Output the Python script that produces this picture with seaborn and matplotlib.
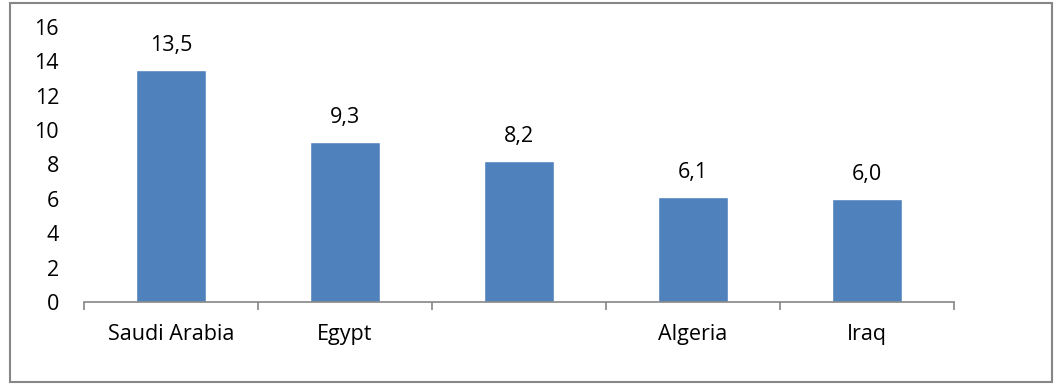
import matplotlib
matplotlib.use("Agg")
import matplotlib.pyplot as plt
import seaborn as sns
import pandas as pd
from matplotlib.patches import Rectangle
from matplotlib.ticker import FixedLocator

# data
countries = ["Saudi Arabia", "Egypt", "", "Algeria", "Iraq"]
values = [13.5, 9.3, 8.2, 6.1, 6.0]
yticks = [0, 2, 4, 6, 8, 10, 12, 14, 16]

df = pd.DataFrame({"country": countries, "value": values})

sns.set_style("white")
plt.rcParams["font.family"] = ["Open Sans", "DejaVu Sans"]
plt.rcParams["text.color"] = "black"
plt.rcParams["xtick.color"] = "black"
plt.rcParams["ytick.color"] = "black"

fig = plt.figure(figsize=(10.61, 3.85), dpi=100)
ax = fig.add_axes([84 / 1061, 1 - 302 / 385, 870 / 1061, 275 / 385])

sns.barplot(data=df, x="country", y="value", order=countries, color="#4F81BD",
            saturation=1, width=0.4, ax=ax)

ax.set_ylim(0, 16)
ax.set_xlim(-0.5, len(countries) - 0.5)
ax.set_yticks(yticks)
ax.set_xlabel("")
ax.set_ylabel("")

for s in ["top", "right", "left"]:
    ax.spines[s].set_visible(False)
ax.spines["bottom"].set_color("#868686")
ax.spines["bottom"].set_linewidth(1.2)

fs = 15.5
ax.tick_params(axis="y", length=0, pad=18, labelsize=fs)
ax.tick_params(axis="x", which="major", length=0, pad=16, labelsize=fs)
ax.xaxis.set_minor_locator(FixedLocator([i - 0.5 for i in range(len(countries) + 1)]))
ax.tick_params(axis="x", which="minor", bottom=True, length=6, width=1.2,
               color="#868686", direction="out")

ax.bar_label(ax.containers[0], labels=[f"{v:.1f}".replace(".", ",") for v in values],
             padding=10, fontsize=fs)

# outer chart border
fig.patches.append(Rectangle((10 / 1061, 3 / 385), 1042 / 1061, 379 / 385,
                             transform=fig.transFigure, fill=False,
                             edgecolor="#868686", linewidth=1.5))

fig.savefig("out.png", dpi=100)
